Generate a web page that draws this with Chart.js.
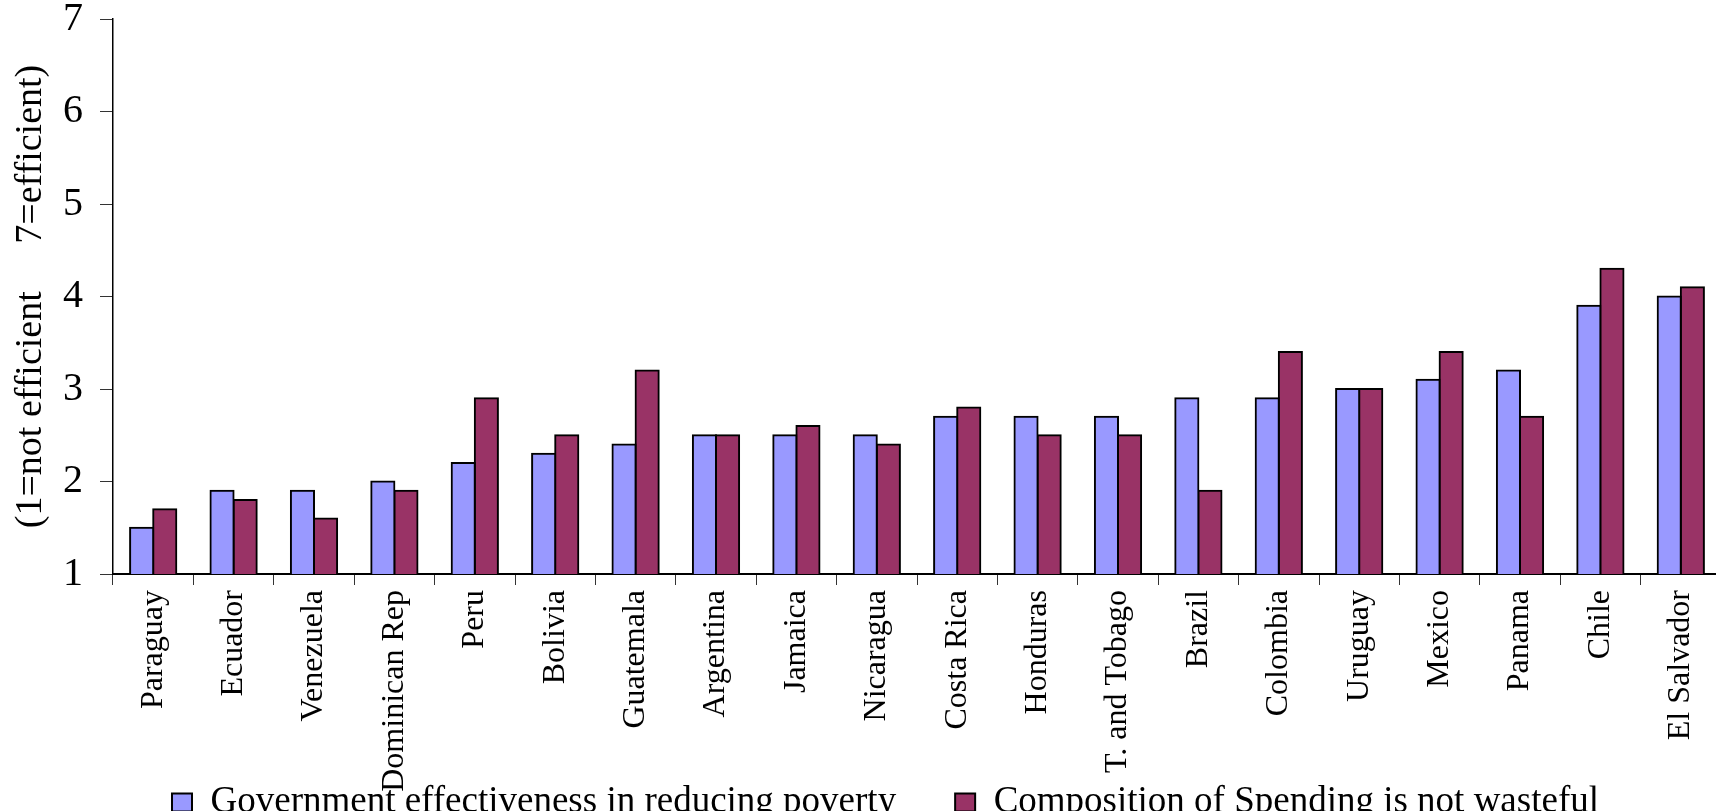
<!DOCTYPE html>
<html>
<head>
<meta charset="utf-8">
<script src="https://cdn.jsdelivr.net/npm/chart.js@4/dist/chart.umd.min.js"></script>
<style>
  html, body { margin: 0; padding: 0; background: #fff; overflow: hidden; }
  canvas { display: block; }
</style>
</head>
<body>
<canvas id="c" width="1730" height="831"></canvas>
<script>
// Countries, ordered by the effectiveness score
const countries = ['Paraguay', 'Ecuador', 'Venezuela', 'Dominican Rep', 'Peru', 'Bolivia',
  'Guatemala', 'Argentina', 'Jamaica', 'Nicaragua', 'Costa Rica', 'Honduras',
  'T. and Tobago', 'Brazil', 'Colombia', 'Uruguay', 'Mexico', 'Panama', 'Chile', 'El Salvador'];

// Survey scores (1 = not efficient, 7 = efficient)
const effectiveness = [1.5, 1.9, 1.9, 2.0, 2.2, 2.3, 2.4, 2.5, 2.5, 2.5,
  2.7, 2.7, 2.7, 2.9, 2.9, 3.0, 3.1, 3.2, 3.9, 4.0];
const notWasteful = [1.7, 1.8, 1.6, 1.9, 2.9, 2.5, 3.2, 2.5, 2.6, 2.4,
  2.8, 2.5, 2.5, 1.9, 3.4, 3.0, 3.4, 2.7, 4.3, 4.1];

const seriesNames = ['Government effectiveness in reducing poverty',
  'Composition of Spending is not wasteful'];
const yTicks = [1, 2, 3, 4, 5, 6, 7];
const yTitle = '(1=not efficient     7=efficient)';

const SERIF = "'Liberation Serif', 'Times New Roman', Times, serif";
Chart.defaults.font.family = SERIF;
Chart.defaults.color = '#000';

// The rotated country names run past the axis box into the legend band;
// widen the area the x labels may paint into so they are not cut.
const longLabels = {
  id: 'longLabels',
  afterLayout(chart) {
    const s = chart.scales.x;
    s.height = 230;
    s.bottom = s.top + 230;
  }
};

const chart = new Chart(document.getElementById('c'), {
  type: 'bar',
  data: {
    labels: countries,
    datasets: [
      {
        label: seriesNames[0],
        data: effectiveness,
        backgroundColor: '#9999FF',
        borderColor: '#000000',
        borderWidth: 2,
        borderSkipped: false,
        inflateAmount: 1
      },
      {
        label: seriesNames[1],
        data: notWasteful,
        backgroundColor: '#993366',
        borderColor: '#000000',
        borderWidth: 2,
        borderSkipped: false,
        inflateAmount: 1
      }
    ]
  },
  plugins: [longLabels],
  options: {
    responsive: false,
    animation: false,
    devicePixelRatio: 1,
    layout: { padding: { top: 19, right: 9, bottom: 0, left: 0 } },
    datasets: {
      bar: { categoryPercentage: 0.575, barPercentage: 1.0 }
    },
    plugins: {
      tooltip: { enabled: false },
      legend: {
        position: 'bottom',
        align: 'start',
        fullSize: false,
        labels: {
          color: '#000',
          font: { family: SERIF, size: 37 },
          boxWidth: 20,
          boxHeight: 18,
          padding: 59
        }
      }
    },
    scales: {
      x: {
        afterFit: s => { s.height = 151; },
        grid: {
          offset: true,
          drawOnChartArea: false,
          drawTicks: true,
          tickLength: 11,
          tickColor: '#333',
          tickWidth: 1
        },
        border: { color: '#000', width: 2 },
        ticks: {
          autoSkip: false,
          minRotation: 90,
          maxRotation: 90,
          padding: 5,
          color: '#000',
          font: { family: SERIF, size: 32 }
        }
      },
      y: {
        min: 1,
        max: 7,
        afterFit: s => { s.width = 113; },
        afterBuildTicks: s => { s.ticks = yTicks.map(v => ({ value: v })); },
        grid: {
          drawOnChartArea: false,
          drawTicks: true,
          tickLength: 13,
          tickColor: '#333',
          tickWidth: 1
        },
        border: { color: '#000', width: 1.5 },
        ticks: {
          padding: 17,
          color: '#000',
          font: { family: SERIF, size: 40, lineHeight: 0.1 }
        },
        title: {
          display: true,
          text: yTitle,
          color: '#000',
          font: { family: 'Liberation Serif', size: 38, style: 'normal', weight: 'normal' },
          padding: { top: 8, bottom: 0 }
        }
      }
    }
  }
});

// Redraw once the serif face is ready so measurements use it
Promise.all([
  document.fonts.load("40px 'Liberation Serif'"),
  document.fonts.load("31px 'Liberation Serif'"),
  document.fonts.ready
]).then(() => chart.update(), () => chart.update());
</script>
</body>
</html>
